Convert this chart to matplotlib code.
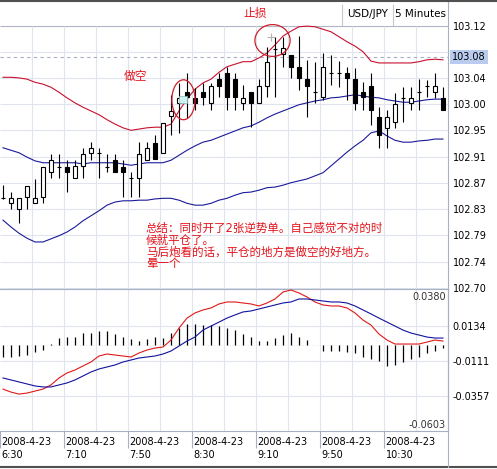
import numpy as np
import matplotlib.pyplot as plt
from matplotlib.patches import Rectangle, Ellipse
from matplotlib.lines import Line2D

plt.rcParams['font.family'] = ['DejaVu Sans', 'Noto Sans CJK SC']

# USD/JPY 5 minutes, 2008-4-23 from 6:30, one bar per 5 minutes
opens  = [102.846, 102.838, 102.829, 102.848, 102.838, 102.848, 102.888, 102.896, 102.896, 102.879,
          102.898, 102.919, 102.919, 102.896, 102.907, 102.896, 102.879, 102.879, 102.907, 102.935,
          102.919, 102.978, 102.999, 103.016, 103.007, 103.016, 102.999, 103.037, 103.047, 103.037,
          102.999, 103.016, 102.999, 103.026, 103.085, 103.077, 103.076, 103.056, 103.037, 103.016,
          103.008, 103.047, 103.047, 103.047, 103.037, 103.016, 103.026, 102.976, 102.959, 102.968,
          103.007, 102.999, 103.016, 103.026, 103.016, 103.007]
highs  = [102.867, 102.856, 102.846, 102.866, 102.877, 102.896, 102.917, 102.917, 102.907, 102.907,
          102.927, 102.936, 102.927, 102.917, 102.917, 102.907, 102.888, 102.936, 102.936, 102.947,
          102.967, 103.012, 103.031, 103.047, 103.023, 103.031, 103.031, 103.047, 103.056, 103.047,
          103.028, 103.016, 103.037, 103.089, 103.105, 103.105, 103.076, 103.106, 103.068, 103.064,
          103.079, 103.076, 103.066, 103.056, 103.055, 103.032, 103.047, 102.992, 102.988, 103.015,
          103.024, 103.024, 103.037, 103.036, 103.047, 103.024]
lows   = [102.845, 102.829, 102.806, 102.829, 102.838, 102.838, 102.879, 102.879, 102.856, 102.879,
          102.879, 102.907, 102.879, 102.888, 102.888, 102.848, 102.848, 102.848, 102.907, 102.909,
          102.919, 102.947, 102.951, 102.975, 102.988, 102.996, 102.988, 103.008, 102.988, 102.988,
          102.988, 102.960, 102.999, 103.008, 103.008, 103.056, 103.039, 103.020, 102.976, 102.999,
          103.004, 103.028, 103.024, 103.004, 102.988, 102.988, 102.963, 102.927, 102.927, 102.959,
          102.968, 102.988, 102.988, 103.008, 103.007, 102.988]
closes = [102.846, 102.846, 102.846, 102.866, 102.846, 102.896, 102.907, 102.896, 102.888, 102.898,
          102.917, 102.927, 102.919, 102.896, 102.888, 102.888, 102.879, 102.917, 102.927, 102.909,
          102.967, 102.986, 103.007, 103.008, 102.999, 103.008, 103.026, 103.026, 103.008, 103.008,
          103.007, 102.999, 103.026, 103.064, 103.085, 103.087, 103.056, 103.039, 103.026, 103.016,
          103.056, 103.047, 103.047, 103.039, 102.999, 103.008, 102.988, 102.947, 102.976, 102.997,
          103.007, 103.007, 103.016, 103.026, 103.026, 102.988]

# bollinger bands
bb_upper = [103.040, 103.040, 103.039, 103.037, 103.032, 103.029, 103.024, 103.016, 103.007, 102.999,
            102.992, 102.986, 102.980, 102.972, 102.965, 102.959, 102.955, 102.957, 102.959, 102.960,
            102.960, 102.965, 102.986, 103.005, 103.021, 103.031, 103.037, 103.048, 103.057, 103.061,
            103.065, 103.065, 103.071, 103.079, 103.092, 103.106, 103.114, 103.121, 103.122, 103.121,
            103.117, 103.113, 103.105, 103.097, 103.090, 103.081, 103.066, 103.063, 103.063, 103.063,
            103.063, 103.063, 103.065, 103.068, 103.069, 103.068]
bb_mid   = [102.927, 102.923, 102.919, 102.912, 102.906, 102.903, 102.903, 102.903, 102.903, 102.903,
            102.901, 102.903, 102.903, 102.903, 102.903, 102.901, 102.899, 102.901, 102.903, 102.903,
            102.903, 102.907, 102.915, 102.923, 102.930, 102.936, 102.939, 102.944, 102.949, 102.954,
            102.959, 102.962, 102.968, 102.975, 102.981, 102.986, 102.991, 102.996, 102.999, 103.002,
            103.004, 103.007, 103.008, 103.010, 103.012, 103.010, 103.008, 103.007, 103.004, 103.002,
            103.000, 103.000, 103.002, 103.004, 103.005, 103.005]
bb_lower = [102.811, 102.800, 102.790, 102.782, 102.776, 102.776, 102.781, 102.786, 102.792, 102.800,
            102.810, 102.818, 102.826, 102.835, 102.840, 102.842, 102.842, 102.843, 102.843, 102.845,
            102.846, 102.846, 102.843, 102.838, 102.835, 102.835, 102.838, 102.843, 102.846, 102.851,
            102.855, 102.856, 102.859, 102.863, 102.864, 102.867, 102.871, 102.874, 102.877, 102.882,
            102.887, 102.898, 102.909, 102.920, 102.930, 102.939, 102.951, 102.954, 102.946, 102.939,
            102.936, 102.936, 102.938, 102.939, 102.941, 102.941]

# lower window: histogram + two lines
osc_hist = [-0.0082, -0.0082, -0.0075, -0.0068, -0.0047, -0.0033, 0.0009, 0.0051, 0.0058, 0.0058,
            0.0086, 0.0086, 0.0100, 0.0100, 0.0079, 0.0058, 0.0044, 0.0030, 0.0044, 0.0058,
            0.0051, 0.0086, 0.0121, 0.0149, 0.0149, 0.0142, 0.0142, 0.0135, 0.0121, 0.0107,
            0.0079, 0.0058, 0.0030, 0.0030, 0.0051, 0.0072, 0.0086, 0.0058, 0.0037, 0.0000,
            -0.0040, -0.0040, -0.0040, -0.0047, -0.0054, -0.0082, -0.0096, -0.0110, -0.0145, -0.0138,
            -0.0117, -0.0096, -0.0082, -0.0054, -0.0040, -0.0019]
osc_red  = [-0.0307, -0.0328, -0.0342, -0.0335, -0.0321, -0.0307, -0.0278, -0.0229, -0.0194, -0.0173,
            -0.0145, -0.0117, -0.0075, -0.0061, -0.0068, -0.0075, -0.0082, -0.0054, -0.0033, -0.0019,
            -0.0012, 0.0037, 0.0121, 0.0191, 0.0227, 0.0248, 0.0262, 0.0290, 0.0304, 0.0304,
            0.0297, 0.0290, 0.0276, 0.0297, 0.0325, 0.0374, 0.0388, 0.0367, 0.0339, 0.0304,
            0.0283, 0.0276, 0.0276, 0.0262, 0.0227, 0.0177, 0.0142, 0.0079, 0.0037, 0.0009,
            0.0009, 0.0009, 0.0009, 0.0023, 0.0037, 0.0030]
osc_blue = [-0.0229, -0.0243, -0.0257, -0.0271, -0.0285, -0.0292, -0.0292, -0.0278, -0.0264, -0.0243,
            -0.0215, -0.0187, -0.0166, -0.0152, -0.0138, -0.0117, -0.0103, -0.0089, -0.0082, -0.0075,
            -0.0061, -0.0040, -0.0005, 0.0030, 0.0058, 0.0107, 0.0135, 0.0163, 0.0191, 0.0213,
            0.0234, 0.0241, 0.0255, 0.0269, 0.0283, 0.0297, 0.0304, 0.0325, 0.0325, 0.0318,
            0.0311, 0.0304, 0.0304, 0.0297, 0.0276, 0.0248, 0.0220, 0.0191, 0.0163, 0.0135,
            0.0107, 0.0086, 0.0072, 0.0058, 0.0051, 0.0051]

price_ticks = [103.123, 103.081, 103.039, 102.997, 102.955, 102.913, 102.871, 102.829, 102.787, 102.744, 102.702]
# the 103.08 label sits under the highlighted line label, so it is left blank here
price_labels = ['103.12', '', '103.04', '103.00', '102.95', '102.91', '102.87', '102.83', '102.79', '102.74', '102.70']
osc_ticks = [0.0134, -0.0111, -0.0357]
osc_labels = ['0.0134', '-0.0111', '-0.0357']
osc_top, osc_bottom = 0.0380, -0.0603
hline_price = 103.0725
hline_label = '103.08'
date_label = '2008-4-23'
time_labels = ['6:30', '7:10', '7:50', '8:30', '9:10', '9:50', '10:30']

summary = ['总结：同时开了2张逆势单。自己感觉不对的时',
           '候就平仓了。',
           '马后炮看的话，平仓的地方是做空的好地方。',
           '晕一个']

RED = '#e3141c'
GRID = '#dfe4f0'
FRAME = '#a8b0c4'

x = np.arange(len(opens))
opens = np.array(opens); closes = np.array(closes)
x0 = -0.375                       # left edge of the chart, in bars
time_pos = np.arange(0, 49, 8) + x0
grid_pos = np.arange(0, 56, 4) + x0

fig = plt.figure(figsize=(4.97, 4.69), dpi=100)
ax = fig.add_axes([0, 180/469, 448/497, 287/469])
ax2 = fig.add_axes([0, 38/469, 448/497, 142/469])

# ---- price window
ax.set_xlim(x0, 55.625)
ax.set_ylim(102.7006, 103.1607)
ax.hlines(price_ticks[1:], x0, 55.625, color=GRID, lw=0.8, zorder=0)
ax.hlines(price_ticks[0], x0, 55.625, color='#b0b6c6', lw=0.8, zorder=0)
ax.vlines(grid_pos[1:], price_ticks[-1], price_ticks[0], color=GRID, lw=0.8, zorder=0)
ax.axhline(hline_price, color='#a8aec4', lw=0.8, ls=(0, (3, 3)), zorder=1)

ax.plot(x, bb_upper, color='#c8102e', lw=0.8, zorder=2)
ax.plot(x, bb_mid, color='#1a1a9a', lw=0.8, zorder=2)
ax.plot(x, bb_lower, color='#1a1a9a', lw=0.8, zorder=2)

ax.vlines(x, lows, highs, color='black', lw=0.8, zorder=3)
up = closes >= opens
body_col = np.where(up, 'white', 'black')
ax.bar(x, closes - opens, bottom=opens, width=0.62, color=body_col,
       edgecolor='black', linewidth=0.8, zorder=4)

# marks on the chart
ax.add_patch(Rectangle((22.0, 102.999), 1.0, 0.011, fc='#cdf3f1', ec='#8fb8b8', lw=0.5, zorder=5))
ax.add_patch(Ellipse((22.56, 103.004), 2.9, 0.064, fill=False, ec='#cc1f2a', lw=0.9, zorder=6))
ax.add_patch(Ellipse((33.69, 103.099), 4.4, 0.051, fill=False, ec='#cc1f2a', lw=0.9, zorder=6))
ax.plot([33.56], [103.105], marker='+', ms=6, mew=0.8, color='#b4b4b4', zorder=6)
ax.text(16.56, 103.042, '做空', color=RED, fontsize=8.5, ha='center', va='center')
ax.text(31.5, 103.143, '止损', color=RED, fontsize=8.5, ha='center', va='center')
for k, line in enumerate(summary):
    ax.text(17.875, 102.7984 - k * 0.0192, line, color=RED, fontsize=8.3, ha='left', va='center')

ax.yaxis.tick_right()
ax.set_yticks(price_ticks)
ax.set_yticklabels(price_labels)
ax.tick_params(axis='y', length=0, pad=3.5, labelsize=7)
ax.set_xticks([])
ax.text(1 + 4/448, hline_price, hline_label, transform=ax.get_yaxis_transform(), fontsize=7,
        ha='left', va='center', bbox=dict(boxstyle='square,pad=0.2', fc='#b9cbee', ec='none'), clip_on=False)
for s in ['left', 'top']:
    ax.spines[s].set_visible(False)
ax.spines['right'].set_color(FRAME)
ax.spines['bottom'].set_color(FRAME)

# ---- oscillator window
ax2.set_xlim(x0, 55.625)
ax2.set_ylim(-0.0601, 0.0395)
ax2.hlines(osc_ticks, x0, 55.625, color=GRID, lw=0.8, zorder=0)
ax2.vlines(grid_pos[1:], -0.0601, 0.0395, color=GRID, lw=0.8, zorder=0)
ax2.axhline(0, color='#e8e8e8', lw=0.6, ls=':', zorder=0)
ax2.vlines(x, 0, osc_hist, color='black', lw=0.9, zorder=2)
ax2.plot(x, osc_red, color='#e01818', lw=0.8, zorder=3)
ax2.plot(x, osc_blue, color='#12129e', lw=0.8, zorder=3)
ax2.yaxis.tick_right()
ax2.set_yticks(osc_ticks)
ax2.set_yticklabels(osc_labels)
ax2.tick_params(axis='y', length=0, pad=3.5, labelsize=7)
ax2.text(446/448, 0.944, '%.4f' % osc_top, transform=ax2.transAxes, fontsize=7, color='#333333', ha='right', va='center')
ax2.text(446/448, 0.039, '%.4f' % osc_bottom, transform=ax2.transAxes, fontsize=7, color='#333333', ha='right', va='center')

ax2.set_xticks(time_pos)
ax2.set_xticklabels([])
ax2.tick_params(axis='x', length=12, width=0.8, color=FRAME, direction='out')
for p, t in zip(time_pos, time_labels):
    ax2.text(p + 0.2, -0.045, date_label + '\n' + t, transform=ax2.get_xaxis_transform(),
             fontsize=7, ha='left', va='top', linespacing=1.35)
ax2.spines['left'].set_visible(False)
for s in ['right', 'top', 'bottom']:
    ax2.spines[s].set_color(FRAME)

# header boxes and frame
fig.add_artist(Line2D([0, 1], [1 - 1/469, 1 - 1/469], color='#505050', lw=1.5))
fig.add_artist(Line2D([0, 1], [2/469, 2/469], color='#505050', lw=1.5))
fig.add_artist(Line2D([448/497, 448/497], [2/469, 180/469], color=FRAME, lw=0.8))
for xb in [342, 393]:
    fig.add_artist(Line2D([xb/497, xb/497], [(469-25)/469, (469-5)/469], color='#c4c8d0', lw=0.8))
fig.text(367.5/497, (469-14)/469, 'USD/JPY', fontsize=7.5, ha='center', va='center')
fig.text(420.5/497, (469-14)/469, '5 Minutes', fontsize=7.5, ha='center', va='center')

fig.savefig('out.png', dpi=100)
